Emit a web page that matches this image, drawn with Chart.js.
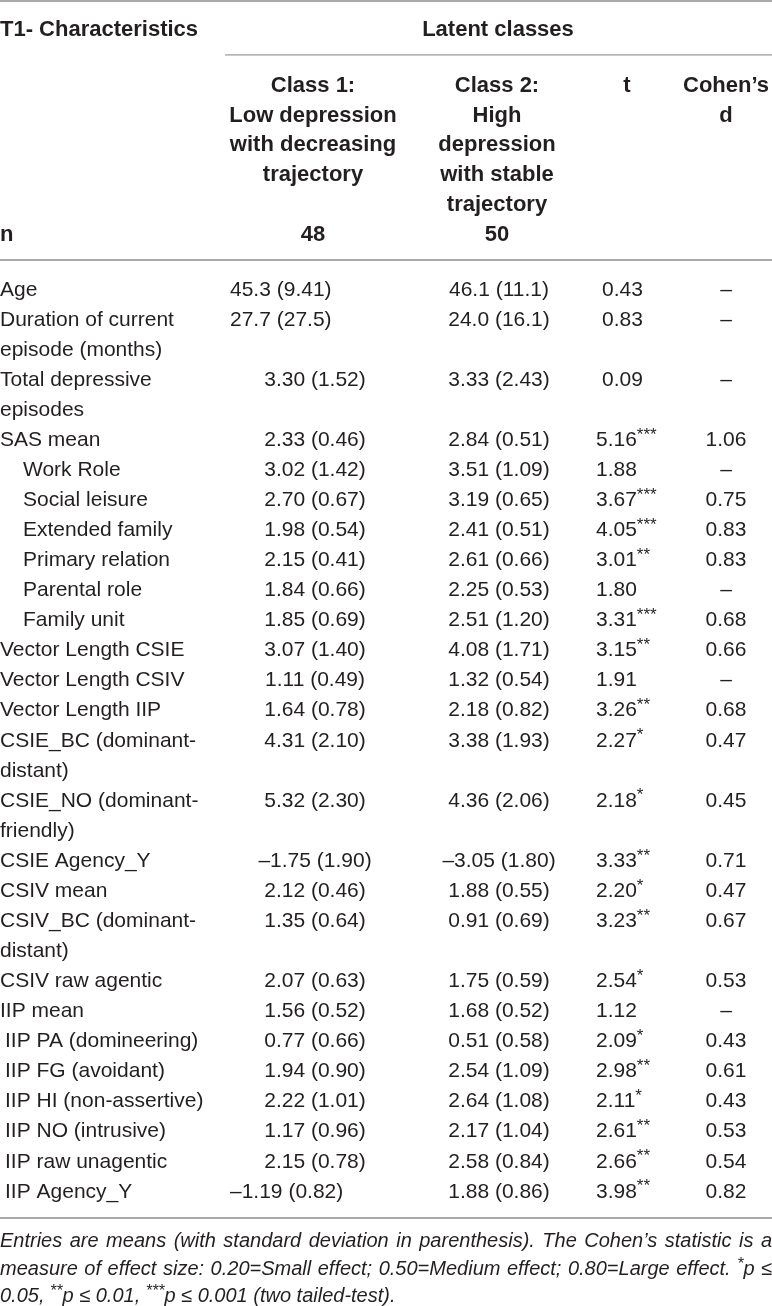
<!DOCTYPE html>
<html>
<head>
<meta charset="utf-8">
<script src="https://cdn.jsdelivr.net/npm/chart.js@4.4.1/dist/chart.umd.min.js"></script>
<style>
  html, body { margin: 0; padding: 0; background: #fff; }
  canvas { display: block; }
</style>
</head>
<body>
<canvas id="table-chart" width="772" height="1306"></canvas>
<script>
// table content
const rowLabels = [
    ['Age'],
    ['Duration of current', 'episode (months)'],
    ['Total depressive', 'episodes'],
    ['SAS mean'],
    ['Work Role'],
    ['Social leisure'],
    ['Extended family'],
    ['Primary relation'],
    ['Parental role'],
    ['Family unit'],
    ['Vector Length CSIE'],
    ['Vector Length CSIV'],
    ['Vector Length IIP'],
    ['CSIE_BC (dominant-', 'distant)'],
    ['CSIE_NO (dominant-', 'friendly)'],
    ['CSIE Agency_Y'],
    ['CSIV mean'],
    ['CSIV_BC (dominant-', 'distant)'],
    ['CSIV raw agentic'],
    ['IIP mean'],
    ['IIP PA (domineering)'],
    ['IIP FG (avoidant)'],
    ['IIP HI (non-assertive)'],
    ['IIP NO (intrusive)'],
    ['IIP raw unagentic'],
    ['IIP Agency_Y']
];
const class1Values = ['45.3 (9.41)', '27.7 (27.5)', '3.30 (1.52)', '2.33 (0.46)', '3.02 (1.42)', '2.70 (0.67)',
    '1.98 (0.54)', '2.15 (0.41)', '1.84 (0.66)', '1.85 (0.69)', '3.07 (1.40)', '1.11 (0.49)', '1.64 (0.78)',
    '4.31 (2.10)', '5.32 (2.30)', '–1.75 (1.90)', '2.12 (0.46)', '1.35 (0.64)', '2.07 (0.63)', '1.56 (0.52)',
    '0.77 (0.66)', '1.94 (0.90)', '2.22 (1.01)', '1.17 (0.96)', '2.15 (0.78)', '–1.19 (0.82)'];
const class2Values = ['46.1 (11.1)', '24.0 (16.1)', '3.33 (2.43)', '2.84 (0.51)', '3.51 (1.09)', '3.19 (0.65)',
    '2.41 (0.51)', '2.61 (0.66)', '2.25 (0.53)', '2.51 (1.20)', '4.08 (1.71)', '1.32 (0.54)', '2.18 (0.82)',
    '3.38 (1.93)', '4.36 (2.06)', '–3.05 (1.80)', '1.88 (0.55)', '0.91 (0.69)', '1.75 (0.59)', '1.68 (0.52)',
    '0.51 (0.58)', '2.54 (1.09)', '2.64 (1.08)', '2.17 (1.04)', '2.58 (0.84)', '1.88 (0.86)'];
const tValues = ['0.43', '0.83', '0.09', '5.16***', '1.88', '3.67***', '4.05***', '3.01**', '1.80', '3.31***',
    '3.15**', '1.91', '3.26**', '2.27*', '2.18*', '3.33**', '2.20*', '3.23**', '2.54*', '1.12', '2.09*', '2.98**',
    '2.11*', '2.61**', '2.66**', '3.98**'];
const cohenD = ['–', '–', '–', '1.06', '–', '0.75', '0.83', '0.83', '–', '0.68', '0.66', '–', '0.68', '0.47',
    '0.45', '0.71', '0.47', '0.67', '0.53', '–', '0.43', '0.61', '0.43', '0.53', '0.54', '0.82'];

const tableTitle = 'T1- Characteristics';
const groupTitle = 'Latent classes';
const class1Header = ['Class 1:', 'Low depression', 'with decreasing', 'trajectory'];
const class2Header = ['Class 2:', 'High', 'depression', 'with stable', 'trajectory'];
const tHeader = ['t'];
const dHeader = ['Cohen’s', 'd'];
const nLabel = 'n';
const groupSizes = ['48', '50'];
const footnote = [
    'Entries are means (with standard deviation in parenthesis). The Cohen’s statistic is a',
    'measure of effect size: 0.20=Small effect; 0.50=Medium effect; 0.80=Large effect. *p ≤',
    '0.05, **p ≤ 0.01, ***p ≤ 0.001 (two tailed-test).'
];

// layout / style (not data)
const FONT = "'Liberation Sans', Arial, sans-serif";
const INK = '#231f20';
const labelIndent = [0, 0, 0, 0, 23, 23, 23, 23, 23, 23, 0, 0, 0, 0, 0, 0, 0, 0, 0, 0, 5, 5, 5, 5, 5, 5];
const class1LeftRows = [0, 1, 25];
const tShiftRows = [0, 1, 2];
const col = {c1Center: 315, c1Left: 230, c2Center: 499, tLeft: 596, dCenter: 726,
    h1: 313, h2: 497, ht: 627, hd: 726, group: 498};
const lineAt = {title: -8.646, groupRule: -7.75, header: -6.784, headerStep: 0.99, n: -1.83,
    headRule: -0.93, bottomRule: 30.93, foot: [31.66, 32.58, 33.48]};

// first line index of each row
const rowLine = [];
let acc = 0;
rowLabels.forEach(l => { rowLine.push(acc); acc += l.length; });

function richParts(text) {
    return text.split(/(\*+)/).filter(s => s.length);
}

function starSize(size) {
    return Math.round(size * 0.8);
}

function richWidth(ctx, text, size, weight, style) {
    let w = 0;
    richParts(text).forEach(p => {
        const star = p[0] === '*';
        ctx.font = `${style} ${weight} ${star ? starSize(size) : size}px ${FONT}`;
        w += ctx.measureText(p).width;
    });
    return w;
}

function drawRich(ctx, text, x, y, align, size, weight, style) {
    weight = weight || 'normal';
    style = style || 'normal';
    const w = richWidth(ctx, text, size, weight, style);
    let cx = align === 'center' ? x - w / 2 : (align === 'right' ? x - w : x);
    const base = y + size * 0.358;
    ctx.textAlign = 'left';
    ctx.textBaseline = 'alphabetic';
    richParts(text).forEach(p => {
        const star = p[0] === '*';
        ctx.font = `${style} ${weight} ${star ? starSize(size) : size}px ${FONT}`;
        ctx.fillText(p, cx, star ? base - size * 0.3 : base);
        cx += ctx.measureText(p).width;
    });
}

function naturalWidth(ctx, text, size) {
    const words = text.split(' ');
    const gap = richWidth(ctx, ' ', size, 'normal', 'italic');
    return words.reduce((a, w) => a + richWidth(ctx, w, size, 'normal', 'italic'), 0) + gap * (words.length - 1);
}

function drawJustified(ctx, text, y, width, size, justify) {
    const words = text.split(' ');
    const widths = words.map(w => richWidth(ctx, w, size, 'normal', 'italic'));
    const total = widths.reduce((a, b) => a + b, 0);
    let gap = richWidth(ctx, ' ', size, 'normal', 'italic');
    if (justify) gap = (width - total) / (words.length - 1);
    let x = 0;
    words.forEach((w, i) => {
        drawRich(ctx, w, x, y, 'left', size, 'normal', 'italic');
        x += widths[i] + gap;
    });
}

const tablePlugin = {
    id: 'tablePlugin',
    afterDatasetsDraw(chart) {
        const ctx = chart.ctx;
        const xs = chart.scales.x, ys = chart.scales.y;
        const X = v => xs.getPixelForValue(v);
        const Y = v => ys.getPixelForValue(v);
        ctx.save();
        ctx.fillStyle = INK;

        // rules
        const rule = (y, x0, x1, w, c) => {
            ctx.strokeStyle = c;
            ctx.lineWidth = w;
            ctx.beginPath();
            ctx.moveTo(x0, y);
            ctx.lineTo(x1, y);
            ctx.stroke();
        };
        rule(1, X(0), X(772), 1.5, '#8d8d8d');
        rule(Y(lineAt.groupRule), X(225), X(772), 1.2, '#9a9a9a');
        rule(Y(lineAt.headRule), X(0), X(772), 1.5, '#8d8d8d');
        rule(Y(lineAt.bottomRule), X(0), X(772), 1.5, '#8d8d8d');

        // header
        drawRich(ctx, tableTitle, X(0), Y(lineAt.title), 'left', 22, 'bold');
        drawRich(ctx, groupTitle, X(col.group), Y(lineAt.title), 'center', 22, 'bold');
        const headCol = (lines, cx) => lines.forEach((s, i) =>
            drawRich(ctx, s, X(cx), Y(lineAt.header + i * lineAt.headerStep), 'center', 22, 'bold'));
        headCol(class1Header, col.h1);
        headCol(class2Header, col.h2);
        headCol(tHeader, col.ht);
        headCol(dHeader, col.hd);
        drawRich(ctx, nLabel, X(0), Y(lineAt.n), 'left', 22, 'bold');
        drawRich(ctx, groupSizes[0], X(col.h1), Y(lineAt.n), 'center', 22, 'bold');
        drawRich(ctx, groupSizes[1], X(col.h2), Y(lineAt.n), 'center', 22, 'bold');

        // row labels
        rowLabels.forEach((lines, i) => {
            lines.forEach((s, j) => drawRich(ctx, s, X(labelIndent[i]), Y(rowLine[i] + j), 'left', 21));
        });

        // value cells from dataset elements
        chart.data.datasets.forEach((ds, di) => {
            const meta = chart.getDatasetMeta(di);
            meta.data.forEach((el, i) => {
                const cell = ds.data[i];
                drawRich(ctx, cell.text, el.x, el.y, cell.align, 21);
            });
        });

        // footnote: largest size whose natural width fits the justified lines
        const fullW = X(772) - X(0);
        let fs = 21;
        while (fs > 14 && footnote.slice(0, -1).some(s => naturalWidth(ctx, s, fs) > fullW - 4)) fs -= 0.25;
        footnote.forEach((s, i) => drawJustified(ctx, s, Y(lineAt.foot[i]), fullW, fs, i < footnote.length - 1));
        ctx.restore();
    }
};

const cells = (values, posFn) => values.map((v, i) => Object.assign({y: rowLine[i], text: v}, posFn(i)));

const datasets = [
    {label: 'Class 1', data: cells(class1Values, i => class1LeftRows.includes(i)
        ? {x: col.c1Left, align: 'left'} : {x: col.c1Center, align: 'center'})},
    {label: 'Class 2', data: cells(class2Values, () => ({x: col.c2Center, align: 'center'}))},
    {label: 't', data: cells(tValues, i => ({x: col.tLeft + (tShiftRows.includes(i) ? 6 : 0), align: 'left'}))},
    {label: "Cohen's d", data: cells(cohenD, () => ({x: col.dCenter, align: 'center'}))}
];

const ctx = document.getElementById('table-chart').getContext('2d');
new Chart(ctx, {
    type: 'scatter',
    data: {datasets: datasets.map(d => Object.assign(d, {pointRadius: 0, pointHoverRadius: 0, clip: false}))},
    options: {
        responsive: false,
        animation: false,
        events: [],
        layout: {padding: 0},
        plugins: {legend: {display: false}, tooltip: {enabled: false}},
        scales: {
            x: {type: 'linear', min: 0, max: 772, display: false},
            y: {type: 'linear', min: -9.578, max: 33.855, reverse: true, display: false}
        }
    },
    plugins: [tablePlugin]
});
</script>
</body>
</html>
